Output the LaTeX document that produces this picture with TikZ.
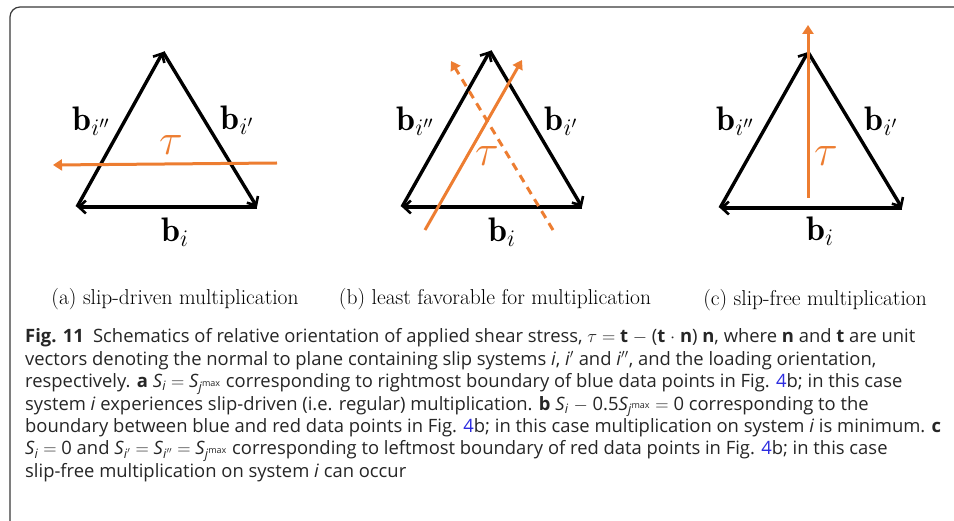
\RequirePackage{fix-cm}
\documentclass[tikz,border=0pt]{standalone}
\usepackage{fontspec}
\usetikzlibrary{arrows.meta}
\newfontfamily\capfont{Open Sans}
\definecolor{tauorange}{HTML}{ED7D31}
\definecolor{captext}{HTML}{262626}
\definecolor{linkblue}{HTML}{2B2BE0}
\definecolor{framegray}{HTML}{3A3A3A}
\newcommand{\bvec}{\fontsize{34}{36}\selectfont}
\newcommand{\taufont}{\fontsize{44}{46}\selectfont}
\newcommand{\Smax}{\textit{S}\textsubscript{\textit{j}\textsuperscript{max}}}
\newcommand{\Ssub}[1]{\textit{S}\textsubscript{\textit{#1}}}
\newcommand{\eq}{\ $=$\ }
\begin{document}
\begin{tikzpicture}[x=1pt,y=-1pt,
  tri/.style={line width=3.4pt,black,-{Straight Barb[length=7pt,width=13pt,line width=2.6pt]}},
  tauarrow/.style={line width=3pt,tauorange,-{Triangle[length=9pt,width=11pt]}},
  taudash/.style={tauarrow,dash pattern=on 8pt off 6pt},
  blab/.style={inner sep=0pt,font=\bvec},
  tlab/.style={inner sep=0pt,font=\taufont,text=tauorange},
  sub/.style={inner sep=0pt,anchor=base,font=\fontsize{21.5}{24}\selectfont},
  capline/.style={inner sep=0pt,anchor=base west,font=\capfont\fontsize{18.4}{22}\selectfont,text=captext}]
\useasboundingbox (0,0) rectangle (954,521);
\fill[white] (0,0) rectangle (954,521);
% frame
\draw[framegray,line width=1.2pt,rounded corners=10pt] (10,530) -- (10,7) -- (965,7);

% ---------- panel (a)
\coordinate (aT) at (163,52);
\coordinate (aL) at (77,207);
\coordinate (aR) at (257,207);
\draw[tri] (aL) -- (aT);
\draw[tri] (aT) -- (aR);
\draw[tri] (aR) -- (aL);
\coordinate (aS) at (277,163);
\coordinate (aE) at (53,165);
\draw[tauarrow] (aS) -- (aE);
\node[tlab] (atau) at (171,145) {$\tau$};
\node[blab] (ab2) at (91,121) {$\mathbf{b}_{i''}$};
\node[blab] (ab1) at (237,120) {$\mathbf{b}_{i'}$};
\node[blab] (ab0) at (175,232) {$\mathbf{b}_{i}$};

% ---------- panel (b)
\coordinate (bT) at (490,51);
\coordinate (bL) at (402,207);
\coordinate (bR) at (582,207);
\draw[tri] (bL) -- (bT);
\draw[tri] (bT) -- (bR);
\draw[tri] (bR) -- (bL);
\coordinate (bS1) at (425,230);
\coordinate (bE1) at (522,60);
\draw[tauarrow] (bS1) -- (bE1);
\coordinate (bS2) at (553,230);
\coordinate (bE2) at (451,61);
\draw[taudash] (bS2) -- (bE2);
\node[tlab] (btau) at (487,156) {$\tau$};
\node[blab] (bb2) at (415,121) {$\mathbf{b}_{i''}$};
\node[blab] (bb1) at (561,121) {$\mathbf{b}_{i'}$};
\node[blab] (bb0) at (502,232) {$\mathbf{b}_{i}$};

% ---------- panel (c)
\coordinate (cT) at (808,52);
\coordinate (cL) at (720,208);
\coordinate (cR) at (902,208);
\draw[tri] (cL) -- (cT);
\draw[tri] (cT) -- (cR);
\draw[tri] (cR) -- (cL);
\coordinate (cS) at (808,198);
\coordinate (cE) at (808,25);
\draw[tauarrow] (cS) -- (cE);
\node[tlab] (ctau) at (826,156) {$\tau$};
\node[blab] (cb2) at (735,121) {$\mathbf{b}_{i''}$};
\node[blab] (cb1) at (881,121) {$\mathbf{b}_{i'}$};
\node[blab] (cb0) at (820,231) {$\mathbf{b}_{i}$};

% ---------- sub-captions
\node[sub] (sa) at (175,305) {(a) slip-driven multiplication};
\node[sub] (sb) at (495,305) {(b) least favorable for multiplication};
\node[sub] (sc) at (815,306) {(c) slip-free multiplication};

% ---------- caption
\node[capline] (l1) at (25,343) {\textbf{Fig. 11}\enspace Schematics of relative orientation of applied shear stress, $\tau$\eq\textbf{t} $-$ (\textbf{t} $\cdot$ \textbf{n}) \textbf{n}, where \textbf{n} and \textbf{t} are unit};
\node[capline] (l2) at (25,365.4) {vectors denoting the normal to plane containing slip systems \textit{i}, \textit{i}$'$ and \textit{i}$''$, and the loading orientation,};
\node[capline] (l3) at (25,387.8) {respectively. \textbf{a} \Ssub{i}\eq\Smax\ corresponding to rightmost boundary of blue data points in Fig. \textcolor{linkblue}{4}b; in this case};
\node[capline] (l4) at (25,410.2) {system \textit{i} experiences slip-driven (i.e. regular) multiplication. \textbf{b} \Ssub{i} $-$ 0.5\Smax\eq 0 corresponding to the};
\node[capline] (l5) at (25,432.6) {boundary between blue and red data points in Fig. \textcolor{linkblue}{4}b; in this case multiplication on system \textit{i} is minimum. \textbf{c}};
\node[capline] (l6) at (25,455) {\Ssub{i}\eq 0 and \textit{S}\textsubscript{\textit{i}$'$}\eq\textit{S}\textsubscript{\textit{i}$''$}\eq\Smax\ corresponding to leftmost boundary of red data points in Fig. \textcolor{linkblue}{4}b; in this case};
\node[capline] (l7) at (25,477.4) {slip-free multiplication on system \textit{i} can occur};
\end{tikzpicture}
\end{document}
